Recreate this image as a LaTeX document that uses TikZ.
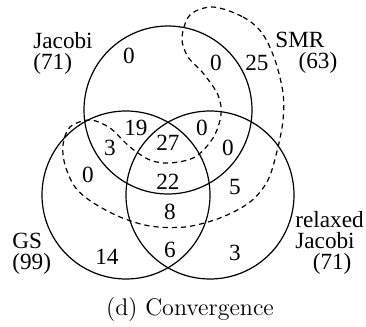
\documentclass[tikz,border=0pt]{standalone}
\usepackage{fontspec}
\newfontfamily\vennfont{Liberation Serif}
\usepackage{tikz}
\usetikzlibrary{positioning}
\tikzset{
  setcircle/.style={draw=black, line width=0.6pt, circle, minimum size=84pt, inner sep=0pt, fill=none},
  smrset/.style={draw=black, line width=0.6pt, dash pattern=on 2.6pt off 2pt},
  cnt/.style={font=\vennfont\fontsize{11.6}{13}\selectfont, inner sep=0pt},
  setlabel/.style={font=\vennfont\fontsize{11.6}{10.5}\selectfont, align=left, inner sep=0pt},
  caption/.style={font=\fontsize{12}{14}\selectfont, inner sep=0pt}
}

\begin{document}
\begin{tikzpicture}[x=0.5pt, y=-0.5pt]
  \useasboundingbox (0,0) rectangle (366,327);
  \node[setcircle] (jac) at (168,110) {};
  \node[setcircle] (gs) at (126,195) {};
  \node[setcircle] (rjac) at (210,195) {};

  % SMR region
  \draw[smrset] plot[smooth cycle, tension=0.55] coordinates {
    (213,7) (243,17) (262,33) (275,60) (283,93) (283,120) (278,147)
    (268,180) (250,202) (220,218) (185,227) (150,226) (120,217) (92,202)
    (75,187) (65,165) (63,145) (70,127) (90,120) (110,128) (130,147)
    (150,160) (170,163) (195,157) (213,138) (221,115) (218,95) (203,73)
    (188,57) (182,38) (190,15)};

  \node[setlabel, anchor=west] (ljac) at (33,53) {Jacobi\\(71)};
  \node[setlabel, anchor=west] (lsmr) at (275,53) {SMR\\\hspace*{1em}(63)};
  \node[setlabel, anchor=west] (lgs) at (12,254) {GS\\(99)};
  \node[setlabel, anchor=west] (lrjac) at (295,243) {relaxed\\Jacobi\\\hspace*{0.75em}(71)};

  \node[cnt] (n1) at (129,56) {0};
  \node[cnt] (n2) at (216,63) {0};
  \node[cnt] (n3) at (257,63) {25};
  \node[cnt] (n4) at (136,128) {19};
  \node[cnt] (n5) at (110,148) {3};
  \node[cnt] (n6) at (168,143) {27};
  \node[cnt] (n7) at (202,128) {0};
  \node[cnt] (n8) at (228,148) {0};
  \node[cnt] (n9) at (88,175) {0};
  \node[cnt] (n10) at (168,182) {22};
  \node[cnt] (n11) at (235,187) {5};
  \node[cnt] (n12) at (170,212) {8};
  \node[cnt] (n13) at (107,257) {14};
  \node[cnt] (n14) at (170,250) {6};
  \node[cnt] (n15) at (235,253) {3};

  \node[caption] (cap) at (190,310) {(d) Convergence};
\end{tikzpicture}
\end{document}
